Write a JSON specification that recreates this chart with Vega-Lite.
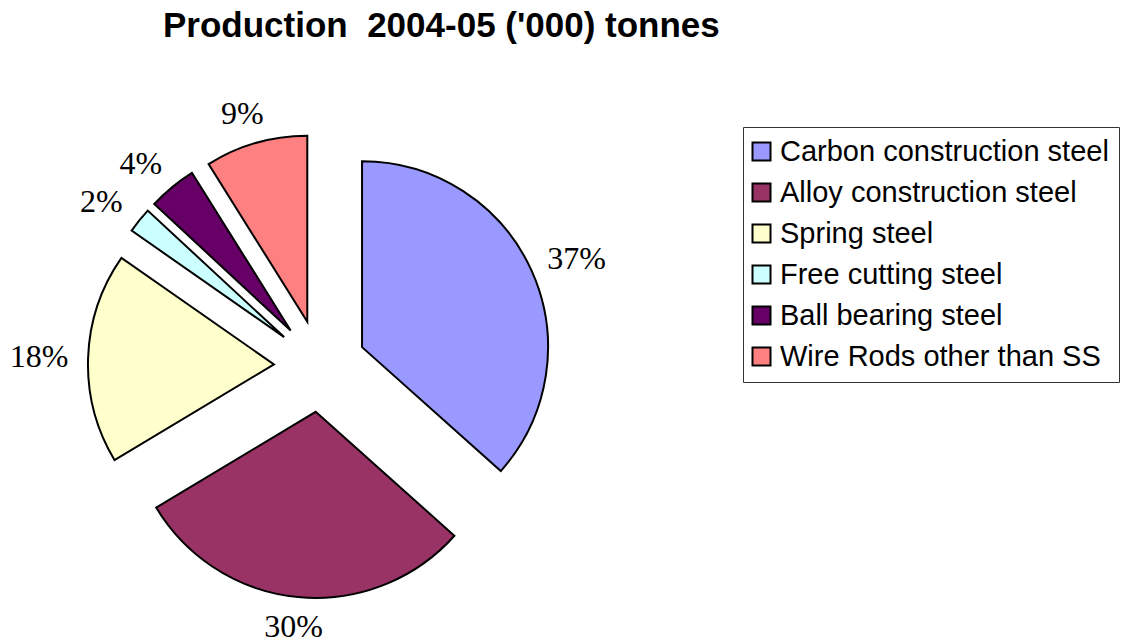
{
  "$schema": "https://vega.github.io/schema/vega-lite/v6.json",
  "width": 1121,
  "height": 581,
  "autosize": {"type": "none"},
  "padding": {"top": 60, "left": 0, "right": 0, "bottom": 0},
  "background": "white",
  "config": {"view": {"stroke": null}},
  "title": {
    "text": "Production\u00a0 2004-05 ('000) tonnes",
    "font": "Liberation Sans",
    "fontSize": 35,
    "fontWeight": "bold",
    "color": "black",
    "anchor": "start",
    "frame": "group",
    "dx": 163,
    "baseline": "alphabetic",
    "offset": -12
  },
  "data": {
    "values": [
      {"order": 1, "type": "Carbon construction steel", "value": 0.366},
      {"order": 2, "type": "Alloy construction steel", "value": 0.298},
      {"order": 3, "type": "Spring steel", "value": 0.183},
      {"order": 4, "type": "Free cutting steel", "value": 0.022},
      {"order": 5, "type": "Ball bearing steel", "value": 0.042},
      {"order": 6, "type": "Wire Rods other than SS", "value": 0.089}
    ]
  },
  "transform": [
    {"window": [{"op": "sum", "field": "value", "as": "end"}], "sort": [{"field": "order"}], "frame": [null, 0]},
    {"calculate": "datum.end - datum.value", "as": "start"},
    {"calculate": "(datum.start + datum.end) * PI", "as": "mid"},
    {"calculate": "0.249 * sin(datum.mid)", "as": "ox"},
    {"calculate": "-0.249 * cos(datum.mid)", "as": "oy"},
    {"calculate": "1.519 * sin(datum.mid)", "as": "lx"},
    {"calculate": "-1.415 * cos(datum.mid)", "as": "ly"}
  ],
  "layer": [
    {
      "mark": {"type": "arc", "radius": 186, "stroke": "black", "strokeWidth": 2, "strokeJoin": "miter"},
      "encoding": {
        "x": {"field": "ox", "type": "quantitative", "scale": {"domain": [-1, 1], "range": [135, 505], "zero": false, "nice": false}, "axis": null},
        "y": {"field": "oy", "type": "quantitative", "scale": {"domain": [-1, 1], "range": [121, 491], "zero": false, "nice": false}, "axis": null},
        "theta": {"field": "start", "type": "quantitative", "scale": {"domain": [0, 1], "range": [0, 6.283185307179586]}},
        "theta2": {"field": "end"},
        "color": {
          "field": "type",
          "type": "nominal",
          "sort": null,
          "scale": {
            "domain": ["Carbon construction steel", "Alloy construction steel", "Spring steel", "Free cutting steel", "Ball bearing steel", "Wire Rods other than SS"],
            "range": ["#9999FF", "#993366", "#FFFFCC", "#CCFFFF", "#660066", "#FF8080"]
          },
          "legend": {
            "title": null,
            "orient": "none",
            "legendX": 743,
            "legendY": 67,
            "padding": 10,
            "strokeColor": "#333333",
            "fillColor": "white",
            "symbolType": "square",
            "symbolSize": 324,
            "symbolOffset": -6,
            "symbolStrokeColor": "black",
            "symbolStrokeWidth": 2,
            "labelFont": "Liberation Sans",
            "labelFontSize": 29,
            "labelColor": "black",
            "labelOffset": 4,
            "labelLimit": 0,
            "rowPadding": 11
          }
        }
      }
    },
    {
      "mark": {"type": "text", "font": "Liberation Serif", "fontSize": 32, "align": "center", "baseline": "middle", "color": "black"},
      "encoding": {
        "x": {"field": "lx", "type": "quantitative"},
        "y": {"field": "ly", "type": "quantitative"},
        "text": {"field": "value", "type": "quantitative", "format": ".0%"}
      }
    }
  ]
}
